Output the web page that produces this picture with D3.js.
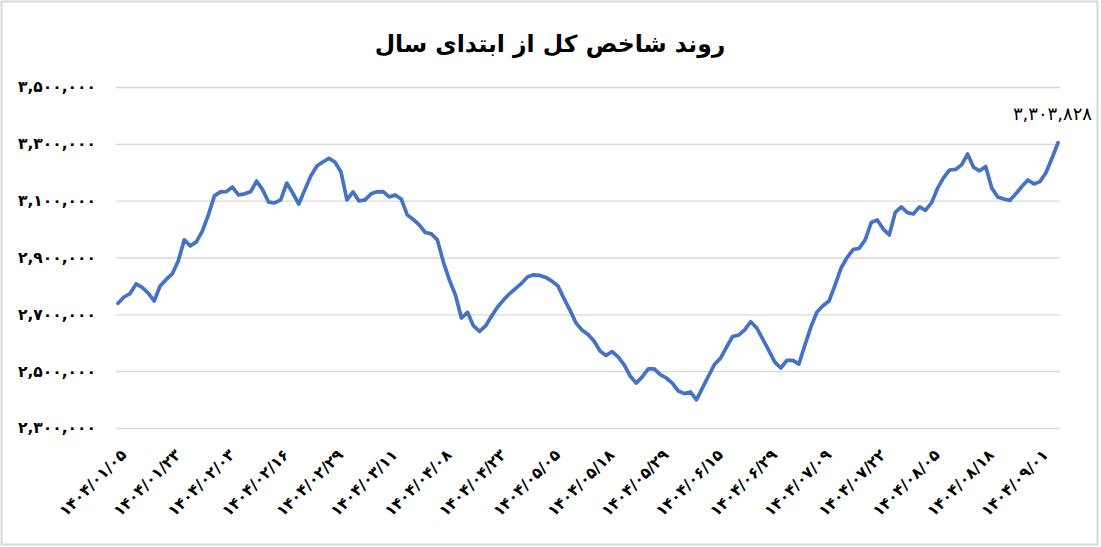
<!DOCTYPE html>
<html>
<head>
<meta charset="utf-8">
<script src="https://cdn.jsdelivr.net/npm/d3@7"></script>
<style>
  body { margin: 0; background: #fff; }
  text { font-family: "DejaVu Sans", sans-serif; }
</style>
</head>
<body>
<script>
// index values (Tehran stock exchange total index), one per trading day
var values = [
  2739000, 2761000, 2773000, 2807000, 2795000, 2775000, 2747000, 2800000, 2823000, 2842000,
  2888000, 2962000, 2941000, 2955000, 2993000, 3050000, 3117000, 3131000, 3132000, 3148000,
  3120000, 3124000, 3131000, 3169000, 3138000, 3095000, 3092000, 3103000, 3162000, 3127000,
  3088000, 3138000, 3187000, 3222000, 3236000, 3249000, 3236000, 3201000, 3103000, 3131000,
  3099000, 3103000, 3124000, 3131000, 3132000, 3113000, 3120000, 3106000, 3050000, 3034000,
  3015000, 2988000, 2983000, 2962000, 2884000, 2821000, 2768000, 2687000, 2707000, 2659000,
  2640000, 2659000, 2694000, 2726000, 2751000, 2773000, 2791000, 2810000, 2832000, 2839000,
  2837000, 2830000, 2817000, 2800000, 2756000, 2715000, 2670000, 2645000, 2629000, 2606000,
  2571000, 2555000, 2569000, 2550000, 2522000, 2483000, 2458000, 2480000, 2508000, 2508000,
  2488000, 2476000, 2458000, 2430000, 2421000, 2427000, 2399000, 2441000, 2483000, 2524000,
  2546000, 2585000, 2622000, 2627000, 2645000, 2674000, 2652000, 2613000, 2573000, 2532000,
  2511000, 2538000, 2538000, 2525000, 2592000, 2656000, 2708000, 2730000, 2747000, 2803000,
  2863000, 2900000, 2928000, 2932000, 2962000, 3023000, 3032000, 3000000, 2979000, 3059000,
  3078000, 3058000, 3053000, 3078000, 3066000, 3092000, 3143000, 3180000, 3208000, 3210000,
  3226000, 3264000, 3217000, 3205000, 3220000, 3145000, 3113000, 3106000, 3101000, 3124000,
  3150000, 3173000, 3159000, 3167000, 3198000, 3249000, 3303828
];

// date labels shown every 9th trading day
var tickLabels = [
  "1404/01/05", "1404/01/23", "1404/02/03", "1404/02/16", "1404/02/29", "1404/03/11",
  "1404/04/08", "1404/04/23", "1404/05/05", "1404/05/18", "1404/05/29", "1404/06/15",
  "1404/06/29", "1404/07/09", "1404/07/22", "1404/08/05", "1404/08/18", "1404/09/01"
];
var tickEvery = 9;

var yTicks = [2300000, 2500000, 2700000, 2900000, 3100000, 3300000, 3500000];

var title = "روند شاخص کل از ابتدای سال";

const w = 1101;
const h = 547;

// western digits -> persian digits
function fa(s) {
    return String(s).replace(/\d/g, (d) => "۰۱۲۳۴۵۶۷۸۹"[d]);
}

const xScale = d3.scaleLinear()
    .domain([0, values.length - 1])
    .range([118, 1058]);

const yScale = d3.scaleLinear()
    .domain([2300000, 3500000])
    .range([428, 87]);

const svg = d3.select("body")
    .append("svg")
    .attr("width", w)
    .attr("height", h);

// chart border
svg.append("rect")
    .attr("x", 1.5)
    .attr("y", 1.5)
    .attr("width", 1096)
    .attr("height", 543)
    .attr("fill", "#fff")
    .attr("stroke", "#d9d9d9")
    .attr("stroke-width", 2);

svg.append("text")
    .attr("x", 550)
    .attr("y", 52)
    .attr("text-anchor", "middle")
    .attr("direction", "rtl")
    .style("font-size", "23.5px")
    .style("font-weight", "bold")
    .attr("fill", "#000")
    .text(title);

// y axis: gridlines + labels
const yAxis = d3.axisLeft(yScale)
    .tickValues(yTicks)
    .tickSize(-(1060 - 116))
    .tickPadding(20)
    .tickFormat((d) => fa(d3.format(",")(d)));

const gy = svg.append("g")
    .attr("transform", "translate(116,0)")
    .call(yAxis);
gy.select(".domain").remove();
gy.selectAll(".tick line")
    .attr("stroke", "#d9d9d9")
    .attr("stroke-width", 1.3);
gy.selectAll(".tick text")
    .attr("fill", "#000")
    .style("font-size", "15.5px")
    .style("font-weight", "bold")
    .style("font-family", "DejaVu Sans");

// x axis: rotated date labels
const tickIdx = tickLabels.map((d, i) => i * tickEvery);
const xAxis = d3.axisBottom(xScale)
    .tickValues(tickIdx)
    .tickSize(0)
    .tickFormat((d, i) => fa(tickLabels[i]));

const gx = svg.append("g")
    .attr("transform", "translate(0,436)")
    .call(xAxis);
gx.select(".domain").remove();
gx.selectAll(".tick text")
    .attr("fill", "#000")
    .attr("text-anchor", "end")
    .attr("direction", "ltr")
    .attr("dy", "0.35em")
    .attr("transform", "translate(5,16) rotate(-45)")
    .attr("y", 0)
    .style("font-size", "15.5px")
    .style("font-weight", "bold")
    .style("font-family", "DejaVu Sans");

// the index line
const line = d3.line()
    .x((d, i) => xScale(i))
    .y((d) => yScale(d));

svg.append("path")
    .datum(values)
    .attr("d", line)
    .attr("fill", "none")
    .attr("stroke", "#4472C4")
    .attr("stroke-width", 3.7)
    .attr("stroke-linejoin", "round")
    .attr("stroke-linecap", "round");

// label on the last value
const last = values.length - 1;
svg.append("text")
    .attr("x", xScale(last) + 34)
    .attr("y", yScale(values[last]) - 23)
    .attr("text-anchor", "end")
    .attr("direction", "ltr")
    .style("font-size", "18px")
    .attr("fill", "#000")
    .text(fa(d3.format(",")(values[last])));
</script>
</body>
</html>
